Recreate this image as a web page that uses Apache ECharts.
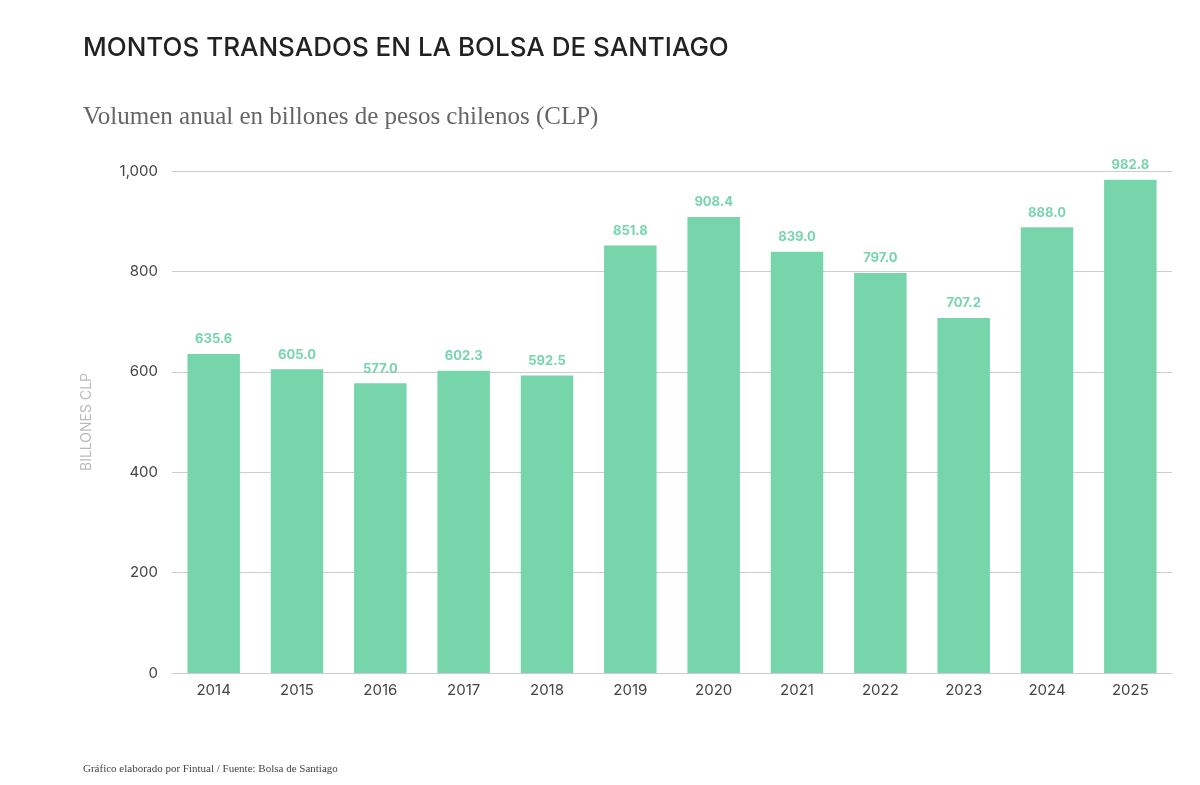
<!DOCTYPE html>
<html><head><meta charset="utf-8">
<script src="https://cdn.jsdelivr.net/npm/echarts@6/dist/echarts.min.js"></script>
<style>html,body{margin:0;background:#fff}#c{width:1200px;height:785px}</style>
</head><body><div id="c"></div>
<script>
const years = ['2014','2015','2016','2017','2018','2019','2020','2021','2022','2023','2024','2025'];
const values = [635.6,605.0,577.0,602.3,592.5,851.8,908.4,839.0,797.0,707.2,888.0,982.8];
const yTicks = [0,200,400,600,800,1000];
const chart = echarts.init(document.getElementById('c'));
chart.setOption({
  backgroundColor:'#fff',
  title:[
    {text:'MONTOS TRANSADOS EN LA BOLSA DE SANTIAGO',left:78,top:30,textStyle:{fontFamily:'Inter, Noto Sans',fontSize:26,fontWeight:500,color:'#222'}},
    {text:'Volumen anual en billones de pesos chilenos (CLP)',left:78,top:100,textStyle:{fontFamily:'Liberation Serif, DejaVu Serif',fontSize:25,fontWeight:'normal',color:'#666'}},
    {text:'Gráfico elaborado por Fintual / Fuente: Bolsa de Santiago',left:78,top:759,textStyle:{fontFamily:'Liberation Serif',fontSize:11,fontWeight:'normal',color:'#444'}}
  ],
  grid:{left:172,right:28,top:171,bottom:112},
  xAxis:{type:'category',data:years,axisTick:{show:false},axisLine:{lineStyle:{color:'#ccc'}},
    axisLabel:{fontFamily:'Inter, Noto Sans',fontSize:15,color:'#444',margin:10}},
  yAxis:{type:'value',min:yTicks[0],max:yTicks[yTicks.length-1],interval:200,
    name:'BILLONES CLP',nameLocation:'middle',nameGap:78,nameRotate:90,
    nameTextStyle:{fontFamily:'Inter, Noto Sans',fontSize:14,color:'#bbb'},
    axisLabel:{fontFamily:'Inter, Noto Sans',fontSize:15,color:'#444',margin:14},
    splitLine:{lineStyle:{color:'#ccc'}}},
  series:[{type:'bar',data:values,barWidth:'63%',itemStyle:{color:'#77d5ac'},
    label:{show:true,position:'top',distance:8,formatter:p=>p.value.toFixed(1),
      fontFamily:'Inter, Noto Sans',fontSize:13,fontWeight:'bold',color:'#77d5ac'}}]
});
</script></body></html>
